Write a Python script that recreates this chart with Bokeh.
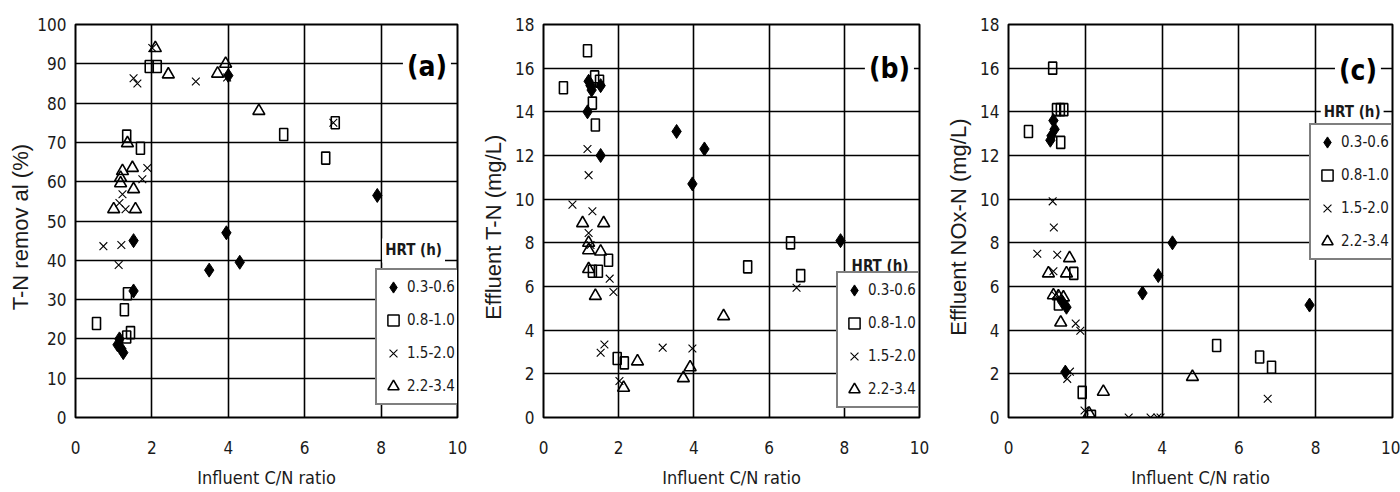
from bokeh.plotting import figure
from bokeh.layouts import row
from bokeh.models import FixedTicker, Legend, LegendItem, Label, Range1d
from bokeh.embed import file_html
from bokeh.resources import INLINE

# ---------------- data ----------------
hrt_labels = ["0.3-0.6", "0.8-1.0", "1.5-2.0", "2.2-3.4"]
x_ticks = [0, 2, 4, 6, 8, 10]

# (a) T-N removal (%)
a_d_x = [1.15, 1.1, 1.2, 1.25, 1.52, 1.52, 3.5, 3.95, 4.3, 7.9, 4.0]
a_d_y = [20.0, 18.5, 17.5, 16.5, 32.2, 45.0, 37.5, 47.0, 39.5, 56.5, 87.0]
a_s_x = [1.34, 1.7, 1.36, 1.28, 0.55, 1.44, 1.34, 1.93, 2.14, 5.45, 6.55, 6.8]
a_s_y = [71.6, 68.5, 31.5, 27.4, 23.9, 21.6, 20.5, 89.3, 89.3, 72.0, 66.0, 75.0]
a_x_x = [1.52, 1.62, 2.01, 3.15, 3.97, 6.75, 1.88, 1.75, 1.23, 1.31, 1.15, 0.73, 1.2, 1.13]
a_x_y = [86.3, 85.0, 94.0, 85.5, 86.5, 75.0, 63.5, 60.6, 56.8, 53.0, 54.6, 43.6, 43.9, 38.8]
a_t_x = [2.09, 2.43, 3.72, 3.93, 4.8, 1.36, 1.23, 1.49, 1.18, 1.52, 1.0, 1.57, 1.18]
a_t_y = [94.0, 87.3, 87.5, 90.0, 78.0, 69.8, 62.7, 63.5, 59.6, 58.1, 53.0, 53.0, 61.0]

# (b) Effluent T-N (mg/L)
b_d_x = [1.2, 1.28, 1.25, 1.52, 1.17, 1.52, 3.54, 4.28, 3.96, 7.9]
b_d_y = [15.4, 15.0, 15.2, 15.2, 14.0, 12.0, 13.1, 12.3, 10.7, 8.1]
b_s_x = [1.17, 0.53, 1.36, 1.49, 1.3, 1.38, 6.57, 5.43, 6.84, 1.73, 1.3, 1.46, 1.96, 2.15]
b_s_y = [16.8, 15.1, 15.6, 15.4, 14.4, 13.4, 8.0, 6.9, 6.5, 7.2, 6.7, 6.7, 2.7, 2.5]
b_x_x = [1.17, 1.2, 0.77, 1.3, 1.2, 1.25, 1.76, 1.86, 1.52, 1.62, 3.17, 3.96, 2.02, 6.73]
b_x_y = [12.3, 11.1, 9.75, 9.45, 8.45, 7.9, 6.36, 5.75, 2.97, 3.34, 3.2, 3.16, 1.67, 5.94]
b_t_x = [1.04, 1.6, 1.2, 1.52, 1.2, 1.38, 2.5, 2.13, 4.79, 3.72, 3.9, 1.2]
b_t_y = [8.9, 8.9, 7.66, 7.6, 6.8, 5.57, 2.57, 1.36, 4.64, 1.8, 2.3, 8.0]

# (c) Effluent NOx-N (mg/L)
c_d_x = [1.17, 1.2, 1.12, 1.09, 1.51, 1.48, 3.49, 3.9, 4.27, 7.84, 1.4]
c_d_y = [13.6, 13.2, 12.9, 12.7, 5.05, 2.08, 5.7, 6.5, 8.0, 5.15, 5.3]
c_s_x = [1.15, 0.52, 1.25, 1.35, 1.44, 1.36, 1.7, 1.3, 1.92, 2.16, 5.42, 6.54, 6.85]
c_s_y = [16.0, 13.1, 14.1, 14.1, 14.1, 12.6, 6.6, 5.2, 1.15, 0.05, 3.3, 2.77, 2.3]
c_x_x = [1.15, 1.18, 0.75, 1.27, 1.17, 1.75, 1.87, 1.6, 1.53, 1.98, 3.13, 3.7, 3.88, 3.96, 6.75, 1.22]
c_x_y = [9.9, 8.7, 7.5, 7.45, 6.7, 4.3, 3.97, 2.1, 1.77, 0.32, 0.0, 0.0, 0.0, 0.0, 0.86, 5.6]
c_t_x = [1.59, 1.04, 1.51, 1.17, 1.3, 1.43, 1.36, 2.47, 2.1, 4.79]
c_t_y = [7.3, 6.6, 6.6, 5.6, 5.55, 5.5, 4.35, 1.18, 0.18, 1.86]

NARROW = "DejaVu Sans Condensed"
SANS = "Liberation Sans"
INK = "#1a1a1a"


def panel(width, bl, br, bt, bb, ymax, ystep, ylabel, series, tag, tag_xy, hrt_xy, leg_loc,
          ylab_standoff):
    p = figure(width=width, height=492, output_backend="svg", toolbar_location=None,
               x_range=Range1d(0, 10), y_range=Range1d(0, ymax),
               min_border_left=bl, min_border_right=br, min_border_top=bt, min_border_bottom=bb)
    p.background_fill_color = "white"
    p.border_fill_color = "white"
    p.outline_line_color = "black"
    p.outline_line_width = 2
    y_ticks = list(range(0, ymax + 1, ystep))
    p.xaxis.ticker = FixedTicker(ticks=x_ticks)
    p.yaxis.ticker = FixedTicker(ticks=y_ticks)
    p.xgrid.ticker = FixedTicker(ticks=x_ticks)
    p.ygrid.ticker = FixedTicker(ticks=y_ticks)
    for g in (p.xgrid, p.ygrid):
        g.grid_line_color = "black"
        g.grid_line_width = 1.6
        g.grid_line_alpha = 1
    for ax in (p.xaxis, p.yaxis):
        ax.axis_line_color = None
        ax.major_tick_line_color = None
        ax.minor_tick_line_color = None
        ax.major_tick_out = 0
        ax.major_tick_in = 0
        ax.major_label_text_font = NARROW
        ax.major_label_text_font_size = "17px"
        ax.major_label_text_color = INK
        ax.axis_label_text_font_style = "normal"
        ax.axis_label_text_color = INK
    p.xaxis.major_label_standoff = 23
    p.yaxis.major_label_standoff = 9
    p.xaxis.axis_label = "Influent C/N ratio"
    p.xaxis.axis_label_text_font = NARROW
    p.xaxis.axis_label_text_font_size = "18px"
    p.xaxis.axis_label_standoff = 10
    p.yaxis.axis_label = ylabel
    p.yaxis.axis_label_text_font = SANS
    p.yaxis.axis_label_text_font_size = "22px"
    p.yaxis.axis_label_standoff = ylab_standoff

    (dx, dy), (sx, sy), (xx, xy), (tx, ty) = series
    r_d = p.scatter(dx, dy, marker="diamond", size=14, fill_color="black", line_color="black")
    p.rect(sx, sy, width=8, height=12, width_units="screen", height_units="screen",
           fill_color="white", fill_alpha=0, line_color="black", line_width=1.6)
    r_x = p.scatter(xx, xy, marker="x", size=11, line_color="black", line_width=1.1)
    r_t = p.scatter(tx, ty, marker="triangle", size=12, fill_color="white", fill_alpha=0,
                    line_color="black", line_width=1.6)
    # legend stand-in for the tall open squares (same data, not drawn on the plot)
    r_s = p.scatter(sx, sy, marker="square", size=10, fill_color="white", line_color="black",
                    line_width=1.5, visible=False)

    items = [LegendItem(label=l, renderers=[r])
             for l, r in zip(hrt_labels, [r_d, r_s, r_x, r_t])]
    leg = Legend(items=items, location=leg_loc, border_line_color="black", border_line_width=2,
                 background_fill_color="white", background_fill_alpha=1,
                 inactive_fill_alpha=0,
                 label_text_font=NARROW, label_text_font_size="15px", label_text_color=INK,
                 padding=2, spacing=3, glyph_width=28, glyph_height=30, label_height=30,
                 label_standoff=0, margin=0, click_policy="none")
    p.add_layout(leg, "center")

    p.add_layout(Label(x=hrt_xy[0], y=hrt_xy[1], text="HRT (h)", text_font=NARROW,
                       text_font_style="bold", text_font_size="15px", text_color=INK,
                       text_align="center", text_baseline="middle",
                       background_fill_color="white", padding=3))
    p.add_layout(Label(x=tag_xy[0], y=tag_xy[1], text=tag, text_font=NARROW,
                       text_font_style="bold", text_font_size="28px", text_color="black",
                       text_align="center", text_baseline="middle",
                       background_fill_color="white", padding=4))
    return p


pa = panel(470, 75, 13, 23, 75, 100, 10, "T-N  remov al  (%)",
           [(a_d_x, a_d_y), (a_s_x, a_s_y), (a_x_x, a_x_y), (a_t_x, a_t_y)],
           "(a)", (9.2, 89.3), (8.85, 42.5), (300, 12), 1)
pb = panel(465, 73, 16, 24, 75, 18, 2, "Effluent  T-N  (mg/L)",
           [(b_d_x, b_d_y), (b_s_x, b_s_y), (b_x_x, b_x_y), (b_t_x, b_t_y)],
           "(b)", (9.2, 16.0), (8.95, 6.95), (293, 9), 6)
pc = panel(465, 73, 8, 23, 75, 18, 2, "Effluent  NOx-N  (mg/L)",
           [(c_d_x, c_d_y), (c_s_x, c_s_y), (c_x_x, c_x_y), (c_t_x, c_t_y)],
           "(c)", (9.1, 15.9), (8.95, 14.0), (301, 157), 6)

layout = row(pa, pb, pc)
open("out.html", "w").write(file_html(layout, INLINE))
